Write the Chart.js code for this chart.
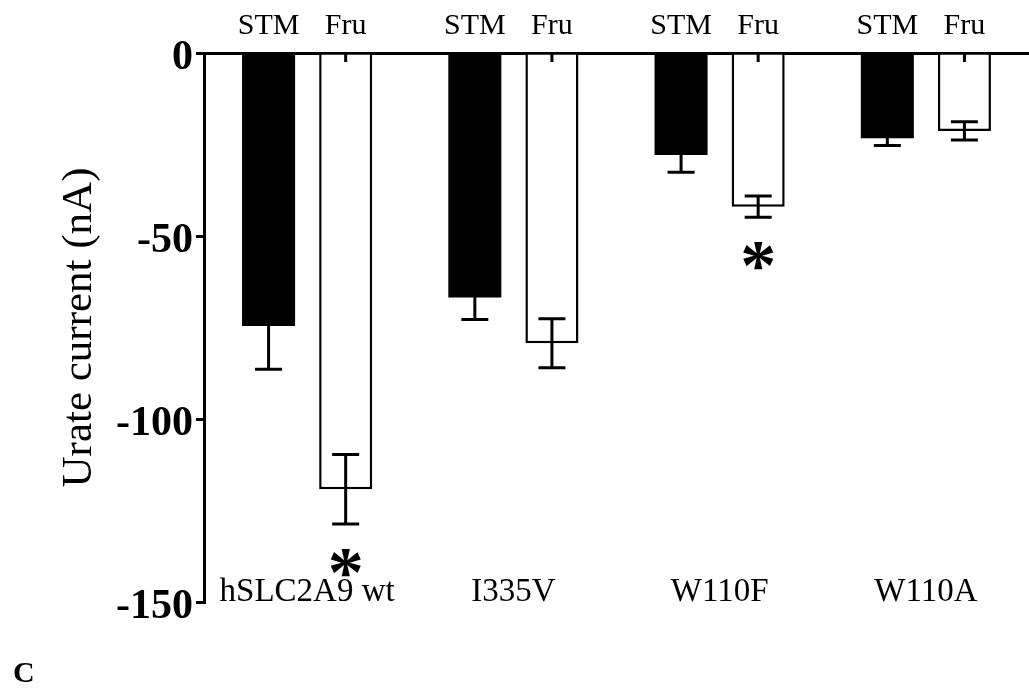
<!DOCTYPE html>
<html>
<head>
<meta charset="utf-8">
<script src="https://cdn.jsdelivr.net/npm/chart.js@4"></script>
<style>
  html, body { margin: 0; padding: 0; background: #fff; }
  #wrap { width: 1029px; height: 698px; position: relative; }
</style>
</head>
<body>
<div id="wrap"><canvas id="urateChart"></canvas></div>
<script>
// data (nA)
const groups = ["hSLC2A9 wt", "I335V", "W110F", "W110A"];
const stmMean = [-74.6, -66.8, -27.9, -23.3];
const stmSem = [11.8, 6.0, 4.7, 2.0];
const fruMean = [-119.2, -79.3, -42.0, -21.3];
const fruSem = [9.5, 6.7, 2.9, 2.5];
const fruSignificant = [true, false, true, false]; // asterisk under the bar
const seriesNames = ["STM", "Fru"];
const yTicks = [0, -50, -100, -150];

const serif = "'Liberation Serif', 'Times New Roman', serif";

// error bars + little stub at the base of each bar
const errorBarPlugin = {
  id: "errorBars",
  afterDatasetsDraw(chart) {
    const ctx = chart.ctx;
    const y = chart.scales.y;
    ctx.save();
    ctx.strokeStyle = "#000";
    ctx.lineWidth = 3;
    chart.data.datasets.forEach((ds, di) => {
      const meta = chart.getDatasetMeta(di);
      meta.data.forEach((bar, i) => {
        const v = ds.data[i];
        const e = ds.sem[i];
        const yLo = y.getPixelForValue(v - e);
        const yHi = y.getPixelForValue(v + e);
        ctx.beginPath();
        ctx.moveTo(bar.x, yHi);
        ctx.lineTo(bar.x, yLo);
        ctx.moveTo(bar.x - 13.5, yHi);
        ctx.lineTo(bar.x + 13.5, yHi);
        ctx.moveTo(bar.x - 13.5, yLo);
        ctx.lineTo(bar.x + 13.5, yLo);
        // base stub
        const y0 = y.getPixelForValue(0);
        ctx.moveTo(bar.x, y0);
        ctx.lineTo(bar.x, y0 + 9);
        ctx.stroke();
      });
    });
    ctx.restore();
  }
};

// text: series names on top, group names at the bottom, asterisks, panel letter
const labelPlugin = {
  id: "labels",
  afterDraw(chart) {
    const ctx = chart.ctx;
    const x = chart.scales.x;
    const y = chart.scales.y;
    ctx.save();
    ctx.fillStyle = "#000";
    ctx.textAlign = "center";
    ctx.textBaseline = "alphabetic";

    ctx.font = "30px " + serif;
    chart.data.datasets.forEach((ds, di) => {
      chart.getDatasetMeta(di).data.forEach(bar => {
        ctx.fillText(seriesNames[di], bar.x, 34);
      });
    });

    ctx.font = "33px " + serif;
    groups.forEach((g, i) => {
      ctx.fillText(g, x.getPixelForValue(i), 601);
    });

    // asterisks under significant Fru bars
    ctx.font = "bold 72px " + serif;
    const m = ctx.measureText("*");
    const fruMeta = chart.getDatasetMeta(1);
    fruSignificant.forEach((s, i) => {
      if (!s) return;
      const bar = fruMeta.data[i];
      const cy = y.getPixelForValue(fruMean[i] - fruSem[i]) + 39;
      const base = cy + (m.actualBoundingBoxAscent - m.actualBoundingBoxDescent) / 2;
      ctx.fillText("*", bar.x, base);
    });

    ctx.textAlign = "left";
    ctx.font = "bold 30px " + serif;
    ctx.fillText("C", 13, 682);
    ctx.restore();
  }
};

const ctx = document.getElementById("urateChart").getContext("2d");
new Chart(ctx, {
  type: "bar",
  data: {
    labels: groups,
    datasets: [
      {
        label: seriesNames[0],
        data: stmMean,
        sem: stmSem,
        backgroundColor: "#000",
        borderWidth: 0
      },
      {
        label: seriesNames[1],
        data: fruMean,
        sem: fruSem,
        backgroundColor: "#fff",
        borderColor: "#000",
        borderWidth: 2.5
      }
    ]
  },
  options: {
    responsive: true,
    maintainAspectRatio: false,
    animation: false,
    categoryPercentage: 0.7476,
    barPercentage: 0.688,
    layout: { padding: { top: 0, right: 0, bottom: 96, left: 0 } },
    plugins: {
      legend: { display: false },
      tooltip: { enabled: false }
    },
    scales: {
      x: {
        position: "top",
        grid: { display: true, drawOnChartArea: false, drawTicks: false },
        border: { display: true, color: "#000", width: 3 },
        ticks: { display: false },
        afterFit: scale => { scale.height = 53; }
      },
      y: {
        min: -150,
        max: 0,
        afterBuildTicks: scale => { scale.ticks = yTicks.map(v => ({ value: v })); },
        grid: { display: true, drawOnChartArea: false, drawTicks: true, tickLength: 8, lineWidth: 3, color: "#000" },
        border: { display: true, color: "#000", width: 3 },
        ticks: {
          color: "#000",
          padding: 3,
          labelOffset: 5,
          font: { family: serif, size: 42, weight: "bold" },
          callback: v => String(v)
        },
        title: {
          display: true,
          text: "Urate current (nA)",
          color: "#000",
          font: { family: serif, size: 43 },
          padding: { top: 54, bottom: 0 }
        },
        afterFit: scale => { scale.width = 204; }
      }
    }
  },
  plugins: [errorBarPlugin, labelPlugin]
});
</script>
</body>
</html>
